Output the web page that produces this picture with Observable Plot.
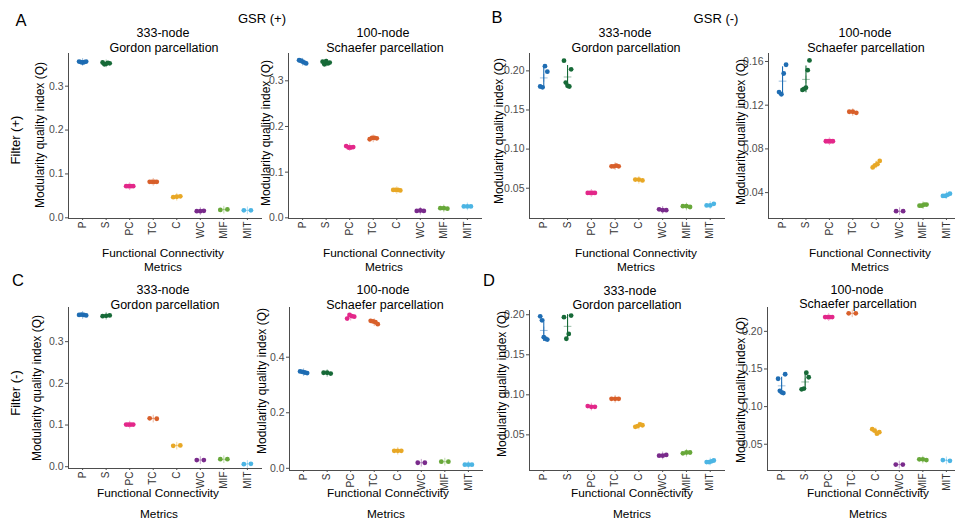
<!DOCTYPE html>
<html><head><meta charset="utf-8">
<script src="https://cdn.jsdelivr.net/npm/d3@7"></script>
<script src="https://cdn.jsdelivr.net/npm/@observablehq/plot@0.6"></script>
<style>
html,body{margin:0;padding:0;background:#fff;overflow:hidden}
#fig{position:relative;width:955px;height:527px;overflow:hidden;font-family:"Liberation Sans",Arial,Helvetica,sans-serif;color:#000;background:#fff}
.t{position:absolute;white-space:nowrap;line-height:1;transform:translate(-50%,-50%)}
.r{position:absolute;white-space:nowrap;line-height:1;transform:translate(-50%,-50%) rotate(-90deg)}
</style></head><body><div id="fig"></div>
<script>
// ---- categories, colours, tick labels ----
const metrics = ["P","S","PC","TC","C","WC","MIF","MIT"];
const metricColors = ["#1f6db3","#176a38","#e3288a","#d9602b","#e8a826","#7a2b8c","#68a83a","#4cb5e4"];
const ticksTenths = [0, 0.1, 0.2, 0.3];
const ticksFifth = [0, 0.2, 0.4];
const ticksFive = [0.05, 0.10, 0.15, 0.20];
const ticksFour = [0.04, 0.08, 0.12, 0.16];

// ---- values (Q per run), one inner list per metric, in metric order ----
// GSR (+), Filter (+)
const gsrPlusFilterPlusGordon = [
  [0.356,0.355,0.354,0.355,0.356],
  [0.354,0.350,0.351,0.353,0.352],
  [0.072,0.072,0.072,0.072],
  [0.082,0.082,0.082,0.082],
  [0.047,0.048,0.049],
  [0.015,0.015,0.016],
  [0.018,0.019],
  [0.017,0.017]
];
const gsrPlusFilterPlusSchaefer = [
  [0.345,0.344,0.342,0.340,0.338],
  [0.342,0.336,0.343,0.338,0.340],
  [0.157,0.154,0.154,0.155],
  [0.172,0.175,0.175,0.174],
  [0.061,0.061,0.061,0.060],
  [0.015,0.016,0.015],
  [0.021,0.021,0.020],
  [0.025,0.025,0.025]
];
// GSR (-), Filter (+)
const gsrMinusFilterPlusGordon = [
  [0.180,0.179,0.206,0.199],
  [0.213,0.185,0.181,0.180,0.202],
  [0.044,0.044,0.044,0.044],
  [0.078,0.078,0.079,0.078],
  [0.061,0.061,0.060],
  [0.023,0.022,0.022],
  [0.027,0.027,0.026],
  [0.028,0.028,0.030]
];
const gsrMinusFilterPlusSchaefer = [
  [0.132,0.130,0.149,0.157],
  [0.134,0.135,0.136,0.152,0.161],
  [0.087,0.087,0.087,0.087],
  [0.114,0.114,0.113],
  [0.063,0.065,0.066,0.069],
  [0.023,0.023],
  [0.028,0.028,0.029,0.029],
  [0.037,0.037,0.038,0.039]
];
// GSR (+), Filter (-)
const gsrPlusFilterMinusGordon = [
  [0.364,0.365,0.364,0.363],
  [0.361,0.362,0.363],
  [0.101,0.101,0.101,0.101],
  [0.116,0.115],
  [0.050,0.051],
  [0.016,0.016],
  [0.018,0.018],
  [0.006,0.007]
];
const gsrPlusFilterMinusSchaefer = [
  [0.349,0.347,0.345,0.343],
  [0.344,0.344,0.341],
  [0.539,0.552,0.548,0.546],
  [0.531,0.529,0.526,0.519],
  [0.063,0.063,0.063],
  [0.020,0.020],
  [0.024,0.024],
  [0.013,0.013,0.013]
];
// GSR (-), Filter (-)
const gsrMinusFilterMinusGordon = [
  [0.198,0.193,0.172,0.170,0.169],
  [0.197,0.170,0.176,0.199],
  [0.086,0.085,0.085],
  [0.095,0.095,0.095],
  [0.060,0.061,0.063,0.062],
  [0.024,0.024,0.025],
  [0.027,0.028,0.028],
  [0.016,0.016,0.017,0.018]
];
const gsrMinusFilterMinusSchaefer = [
  [0.137,0.121,0.119,0.118,0.143],
  [0.123,0.124,0.145,0.139],
  [0.219,0.219,0.219,0.219],
  [0.224,0.224],
  [0.070,0.068,0.064,0.066],
  [0.023,0.023],
  [0.030,0.030,0.029],
  [0.029,0.028]
];

const yTitle = "Modularity quality index (Q)";
const xTitle = ["Functional Connectivity","Metrics"];
const gordonTitle = ["333-node","Gordon parcellation"];
const schaeferTitle = ["100-node","Schaefer parcellation"];

// ---- layout ----
const panels = [
  {vals:gsrPlusFilterPlusGordon, L:68, R:261, T:53, B:218, domain:[-0.0016,0.3745], ticks:ticksTenths, fmt:".1f",
   title:gordonTitle, tp:[[163,33],[164,48]], yt:[40,135], xt:[[163,254],[163,268]]},
  {vals:gsrPlusFilterPlusSchaefer, L:288, R:481, T:53, B:218, domain:[-0.0015,0.3598], ticks:ticksTenths, fmt:".1f",
   title:schaeferTitle, tp:[[383,33],[385,48]], yt:[266,133], xt:[[384,254],[384,268]]},
  {vals:gsrMinusFilterPlusGordon, L:529, R:724, T:53, B:217.5, domain:[0.0113,0.2222], ticks:ticksFive, fmt:".2f",
   title:gordonTitle, tp:[[625,33],[626,48]], yt:[499,131], xt:[[636,254],[636,268]]},
  {vals:gsrMinusFilterPlusSchaefer, L:768, R:960, T:53, B:217.5, domain:[0.0163,0.1673], ticks:ticksFour, fmt:".2f",
   title:schaeferTitle, tp:[[865,33],[866,48]], yt:[741,132], xt:[[870,254],[870,268]]},
  {vals:gsrPlusFilterMinusGordon, L:68, R:261, T:306.7, B:468, domain:[-0.0043,0.3819], ticks:ticksTenths, fmt:".1f",
   title:gordonTitle, tp:[[163,290],[165,305]], yt:[37,388], xt:[[158,493.5],[159,514.5]]},
  {vals:gsrPlusFilterMinusSchaefer, L:289, R:482, T:306.7, B:469.5, domain:[-0.0079,0.579], ticks:ticksFifth, fmt:".1f",
   title:schaeferTitle, tp:[[383,290],[385,305]], yt:[262,381], xt:[[388,493.5],[386,514.5]]},
  {vals:gsrMinusFilterMinusGordon, L:529, R:724, T:310, B:470, domain:[0.0055,0.2053], ticks:ticksFive, fmt:".2f",
   title:gordonTitle, tp:[[630,291],[627,305]], yt:[502,384], xt:[[632,493.5],[632,514.5]]},
  {vals:gsrMinusFilterMinusSchaefer, L:766.7, R:960, T:306.7, B:469.5, domain:[0.0151,0.2317], ticks:ticksFive, fmt:".2f",
   title:schaeferTitle, tp:[[857,290],[858,304]], yt:[741,390], xt:[[868,493.5],[868,514.5]]}
];

const fig = document.getElementById("fig");
function addText(txt, x, y, size, cls, color) {
  const d = document.createElement("div");
  d.className = cls || "t";
  d.textContent = txt;
  d.style.left = x + "px";
  d.style.top = y + "px";
  d.style.fontSize = size + "px";
  if (color) d.style.color = color;
  fig.appendChild(d);
}

const pad = 0.6;
for (const p of panels) {
  const ml = 38, mt = 4, mr = 4, mb = 32;
  const rows = [];
  p.vals.forEach((arr, k) => arr.forEach((v, i) => rows.push({
    k, v, j: arr.length > 1 ? (i / (arr.length - 1) - 0.5) * 0.3 : 0
  })));
  const stats = p.vals.map((arr, k) => ({k, m: d3.mean(arr), s: arr.length > 1 ? d3.deviation(arr) : 0}));
  const svg = Plot.plot({
    width: Math.round(p.R - p.L + ml + mr),
    height: Math.round(p.B - p.T + mt + mb),
    marginLeft: ml, marginRight: mr, marginTop: mt, marginBottom: mb,
    style: {fontFamily: '"Liberation Sans",Arial,sans-serif', fontSize: "10.5px", color: "#4d4d4d",
            background: "transparent", overflow: "visible", maxWidth: "none"},
    color: {type: "identity"},
    x: {domain: [-pad, 7 + pad], ticks: d3.range(8), tickFormat: i => metrics[i], tickRotate: -90,
        label: null, line: true, tickSize: 2, tickPadding: 1},
    y: {domain: p.domain, ticks: p.ticks, tickFormat: d3.format(p.fmt), label: null, line: true,
        tickSize: 3, tickPadding: 2},
    marks: [
      Plot.ruleX(stats, {x: "k", y1: d => d.m - d.s, y2: d => d.m + d.s, stroke: d => metricColors[d.k], strokeWidth: 1.1}),
      Plot.dot(rows, {x: d => d.k + d.j, y: "v", r: 2.4, fill: d => metricColors[d.k]}),
      Plot.dot(stats, {x: "k", y: "m", symbol: "plus", r: 2.6, stroke: d => metricColors[d.k], strokeOpacity: 0.55, strokeWidth: 0.8})
    ]
  });
  const xl = svg.querySelector('[aria-label="x-axis tick label"]');
  if (xl) { xl.setAttribute("font-size", "10"); xl.setAttribute("fill", "#333"); }
  svg.style.position = "absolute";
  svg.style.left = (p.L - ml) + "px";
  svg.style.top = (p.T - mt) + "px";
  fig.appendChild(svg);

  addText(p.title[0], p.tp[0][0], p.tp[0][1], 12.5);
  addText(p.title[1], p.tp[1][0], p.tp[1][1], 12.5);
  addText(yTitle, p.yt[0], p.yt[1], 12, "r");
  addText(xTitle[0], p.xt[0][0], p.xt[0][1], 11.8);
  addText(xTitle[1], p.xt[1][0], p.xt[1][1], 11.8);
}

addText("A", 21, 20, 16.5);
addText("B", 497, 17, 16.5);
addText("C", 18, 280, 16.5);
addText("D", 489, 280, 16.5);
addText("GSR (+)", 262, 18, 13);
addText("GSR (-)", 716, 18, 13);
addText("Filter (+)", 15, 140, 13, "r");
addText("Filter (-)", 15, 393, 13, "r");
</script></body></html>
